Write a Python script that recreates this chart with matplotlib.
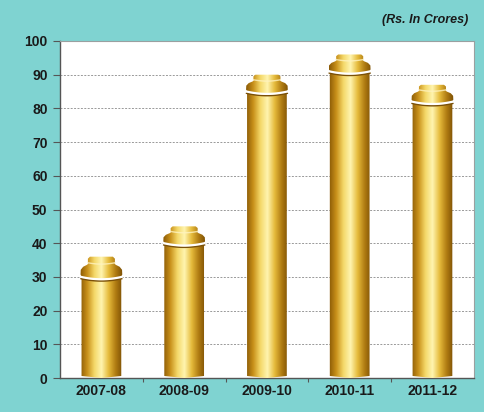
import matplotlib.pyplot as plt
import numpy as np
from matplotlib.path import Path
from matplotlib.patches import PathPatch
from matplotlib.colors import LinearSegmentedColormap

years = ["2007-08", "2008-09", "2009-10", "2010-11", "2011-12"]
body_tops = [30, 40, 85, 91, 82]
cap_tops = [36, 45, 90, 96, 87]

BG = "#7fd3d1"
gold = LinearSegmentedColormap.from_list(
    "gold", ["#8a5a06", "#c8901a", "#f4d868", "#fff4b0", "#e6bc3c", "#b07c12", "#7a4e04"])


def silhouette(c, h, b, t):
    cap = t - b
    right = [
        (c + h, 0.6), (c + h, b), (c + h * 1.05, b + cap * 0.12),
        (c + h * 1.04, b + cap * 0.35), (c + h * 0.92, b + cap * 0.5),
        (c + h * 0.72, b + cap * 0.6), (c + h * 0.66, b + cap * 0.66),
        (c + h * 0.68, b + cap * 0.72), (c + h * 0.68, b + cap * 0.9),
        (c + h * 0.58, t),
    ]
    left = [(2 * c - x, y) for x, y in reversed(right)]
    pts = [(c, 0)] + right + left + [(c - h, 0.6), (c, 0)]
    return Path(pts)


fig = plt.figure(figsize=(4.84, 4.12), dpi=100, facecolor=BG)
ax = fig.add_axes([0.124, 0.0825, 0.855, 0.818])
ax.set_facecolor("white")
ax.set_xlim(-0.5, 4.5)
ax.set_ylim(0, 100)

ax.set_yticks(range(0, 101, 10))
ax.yaxis.grid(True, color="#999999", linestyle=(0, (2, 1.5)), linewidth=0.7)
ax.set_axisbelow(True)

grad = np.linspace(0, 1, 200).reshape(1, -1)
h = 0.24
for i, (b, t) in enumerate(zip(body_tops, cap_tops)):
    path = silhouette(i, h, b, t)
    patch = PathPatch(path, facecolor="none", edgecolor="none")
    ax.add_patch(patch)
    im = ax.imshow(grad, cmap=gold, aspect="auto", extent=[i - h * 1.06, i + h * 1.06, 0, t],
                   zorder=3, interpolation="bilinear")
    im.set_clip_path(patch)
    # ring at the top of the body
    xs = np.linspace(i - h * 1.02, i + h * 1.02, 50)
    ring = b - 0.7 * (1 - ((xs - i) / (h * 1.02)) ** 2)
    ax.plot(xs, ring - 0.5, color="#7a5008", lw=1.2, zorder=4)
    ax.plot(xs, ring, color="white", lw=1.6, zorder=5)
    # neck highlight
    cap = t - b
    xn = np.linspace(i - h * 0.68, i + h * 0.68, 40)
    neck = b + cap * 0.7 - 0.4 * (1 - ((xn - i) / (h * 0.68)) ** 2)
    ax.plot(xn, neck, color="#fff3c0", lw=1.0, zorder=5, alpha=0.8)

ax.set_xticks([0.5, 1.5, 2.5, 3.5], minor=False)
ax.set_xticklabels([])
ax.set_xticks(range(5), minor=True)
ax.set_xticklabels(years, minor=True, fontsize=10, fontweight="bold",
                   family="Liberation Sans", color="#1a1a1a")
ax.tick_params(axis="x", which="minor", length=0, pad=4)
ax.tick_params(axis="x", which="major", length=3, direction="out", color="#555555")
ax.tick_params(axis="y", length=5, direction="out", color="#555555", pad=4)
for lab in ax.get_yticklabels():
    lab.set_fontsize(10)
    lab.set_fontweight("bold")
    lab.set_family("Liberation Sans")
    lab.set_color("#1a1a1a")

for s in ["top", "right"]:
    ax.spines[s].set_color("#9aa0a0")
    ax.spines[s].set_linewidth(0.8)
for s in ["left", "bottom"]:
    ax.spines[s].set_color("#555555")
    ax.spines[s].set_linewidth(1.0)

fig.text(0.967, 0.952, "(Rs. In Crores)", ha="right", va="center", fontsize=9,
         fontweight="bold", fontstyle="italic", family="Liberation Sans", color="#1a1a1a")

fig.savefig("out.png", dpi=100, facecolor=BG)
